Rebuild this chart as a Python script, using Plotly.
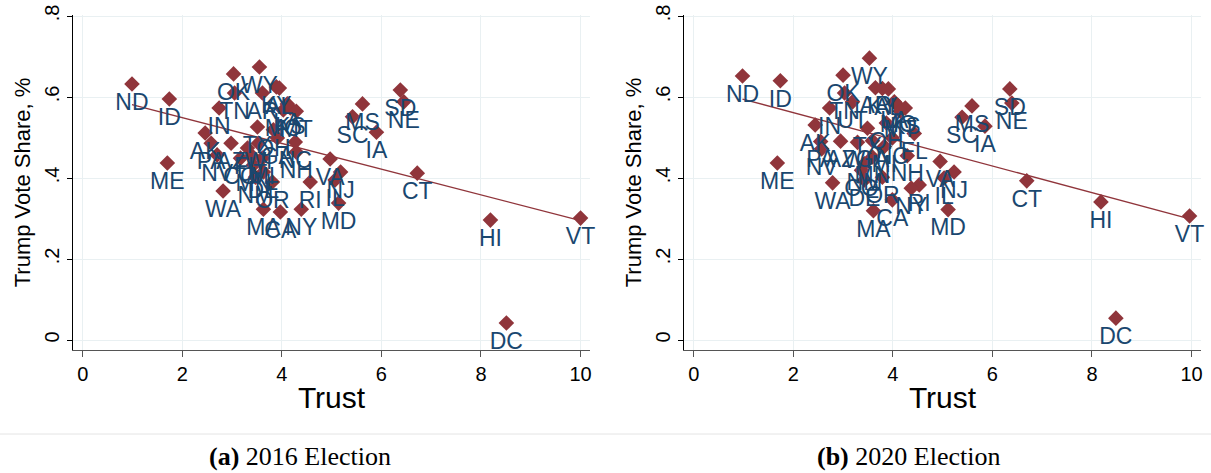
import plotly.graph_objects as go

# ---------------- data ----------------
states_2016 = ["ND","ID","ME","WY","OK","TN","AR","KY","AL","IN","LA","MO","KS","MT","TX","OH","AK","PA","AZ","FL",
               "WI","GA","NC","MI","NV","CO","MN","NH","DE","NM","OR","WA","RI","IL","NJ","VA","MD","MA","CA","NY",
               "CT","HI","VT","DC","SC","MS","IA","SD","NE","UT"]
trust_2016 = [0.99,1.74,1.70,3.55,3.03,3.05,3.61,3.89,3.95,2.74,4.11,4.03,4.17,4.29,3.51,3.83,2.46,2.58,2.98,3.31,
              3.53,3.91,4.27,3.61,2.70,3.17,3.43,4.29,3.63,3.47,3.81,2.82,4.57,5.07,5.18,4.97,5.14,3.63,3.97,4.39,
              6.72,8.19,10.0,8.51,5.42,5.62,5.90,6.38,6.45,3.40]
vote_2016 = [0.632,0.595,0.437,0.674,0.657,0.610,0.610,0.625,0.622,0.573,0.583,0.568,0.573,0.565,0.526,0.519,0.511,0.486,0.486,0.474,
             0.486,0.499,0.489,0.449,0.457,0.449,0.432,0.464,0.415,0.402,0.390,0.368,0.390,0.395,0.415,0.447,0.338,0.323,0.316,0.323,
             0.412,0.296,0.301,0.042,0.551,0.583,0.513,0.617,0.588,0.455]
fit_x_2016 = [0.99, 10.0]
fit_y_2016 = [0.581, 0.295]

states_2020 = ["ND","ID","ME","WY","OK","TN","AR","KY","AL","UT","IN","AK","LA","MO","KS","MT","TX","OH","PA","AZ",
               "WI","NV","FL","NC","GA","MI","MN","NM","NH","CO","VA","NJ","IL","RI","WA","DE","OR","NY","MD","CA",
               "MA","CT","HI","VT","DC","SC","MS","IA","SD","NE"]
trust_2020 = [0.98,1.74,1.68,3.53,3.00,3.03,3.65,3.79,3.91,3.19,2.73,2.44,4.03,4.11,4.25,4.15,3.49,3.87,2.55,2.95,
              3.29,2.57,4.43,3.99,3.59,3.83,3.59,3.43,4.29,3.37,4.95,5.23,5.03,4.53,2.79,3.43,3.79,4.37,5.11,3.99,
              3.61,6.69,8.18,9.96,8.48,5.39,5.59,5.85,6.35,6.39]
vote_2020 = [0.652,0.640,0.437,0.696,0.654,0.610,0.623,0.621,0.620,0.588,0.573,0.531,0.588,0.578,0.573,0.565,0.523,0.536,0.490,0.491,
             0.488,0.472,0.510,0.499,0.492,0.478,0.452,0.435,0.455,0.419,0.441,0.415,0.400,0.383,0.388,0.395,0.402,0.375,0.322,0.346,
             0.319,0.393,0.341,0.306,0.054,0.550,0.578,0.528,0.620,0.585]
fit_x_2020 = [0.98, 10.0]
fit_y_2020 = [0.595, 0.298]

x_ticks = [0, 2, 4, 6, 8, 10]
y_ticks = [0, 0.2, 0.4, 0.6, 0.8]
y_tick_text = ["0", ".2", ".4", ".6", ".8"]
captions = [("<b>(a)</b> 2016 Election", 0.248), ("<b>(b)</b> 2020 Election", 0.750)]

# ---------------- style ----------------
MARK = "#90353b"
LAB = "#1a476f"
GRID = "#e9f0f2"
FONT = "Liberation Sans, Arial, sans-serif"
W, H = 1211, 473

fig = go.Figure()

def add_panel(states, xs, ys, fx, fy, xa, ya):
    fig.add_trace(go.Scatter(x=fx, y=fy, mode="lines", line=dict(color=MARK, width=1.3),
                             xaxis=xa, yaxis=ya, showlegend=False, hoverinfo="skip"))
    fig.add_trace(go.Scatter(x=xs, y=ys, mode="markers+text", text=states, textposition="bottom center",
                             textfont=dict(family=FONT, size=23, color=LAB),
                             marker=dict(symbol="diamond", size=12, color=MARK),
                             cliponaxis=False, xaxis=xa, yaxis=ya, showlegend=False))

add_panel(states_2016, trust_2016, vote_2016, fit_x_2016, fit_y_2016, "x", "y")
add_panel(states_2020, trust_2020, vote_2020, fit_x_2020, fit_y_2020, "x2", "y2")

def xax(dom, anchor):
    return dict(domain=dom, anchor=anchor, range=[-0.195, 10.19], tickvals=x_ticks,
                showgrid=True, gridcolor=GRID, gridwidth=1, zeroline=False,
                showline=True, linecolor="#555555", linewidth=1,
                ticks="outside", ticklen=6, tickcolor="#555555",
                tickfont=dict(family=FONT, size=20, color="black"),
                title=dict(text="Trust", font=dict(family=FONT, size=30, color="black"), standoff=2),
                automargin=False)

def yax(anchor):
    return dict(domain=[(H - 350) / H, (H - 15) / H], anchor=anchor, range=[-0.0247, 0.8025],
                tickvals=y_ticks, ticktext=y_tick_text, tickangle=-90,
                showgrid=True, gridcolor=GRID, gridwidth=1, zeroline=False,
                showline=True, linecolor="black", linewidth=1,
                ticks="outside", ticklen=5, tickcolor="black",
                tickfont=dict(family=FONT, size=20, color="black"),
                title=dict(text="Trump Vote Share, %", font=dict(family=FONT, size=22, color="black"), standoff=4),
                automargin=False)

fig.update_layout(
    width=W, height=H,
    margin=dict(l=0, r=0, t=0, b=0),
    paper_bgcolor="white", plot_bgcolor="white",
    xaxis=xax([73 / W, 590 / W], "y"),
    yaxis=yax("x"),
    xaxis2=xax([684 / W, 1201 / W], "y2"),
    yaxis2=yax("x2"),
    shapes=[dict(type="line", xref="paper", yref="paper", x0=0, x1=1,
                 y0=(H - 434) / H, y1=(H - 434) / H, line=dict(color="#e4e4e4", width=1))],
    annotations=[dict(text=t, x=cx, y=(H - 456) / H, xref="paper", yref="paper", showarrow=False,
                      xanchor="center", yanchor="middle",
                      font=dict(family="Liberation Serif, DejaVu Serif, serif", size=26, color="black"))
                 for t, cx in captions],
)

fig.write_html("out.html")
